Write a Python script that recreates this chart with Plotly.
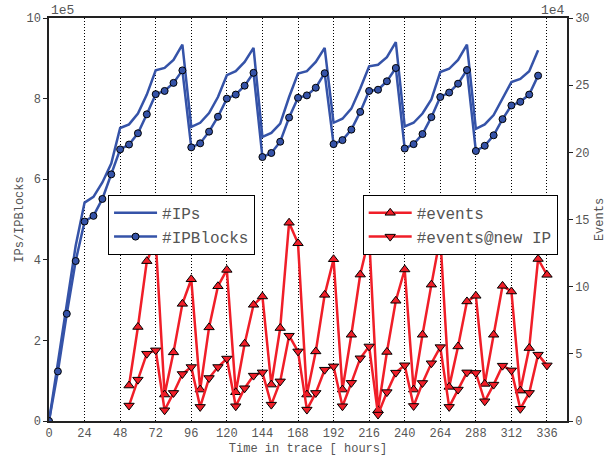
import plotly.graph_objects as go

# ---------------- data ----------------
hours_ip = [0, 6, 12, 18, 24, 30, 36, 42, 48, 54, 60, 66, 72, 78, 84, 90,
            96, 102, 108, 114, 120, 126, 132, 138, 144, 150, 156, 162, 168, 174, 180, 186,
            192, 198, 204, 210, 216, 222, 228, 234, 240, 246, 252, 258, 264, 270, 276, 282,
            288, 294, 300, 306, 312, 318, 324, 330]
ips = [0, 1.45, 3.0, 4.35, 5.42, 5.56, 5.92, 6.39, 7.27, 7.36, 7.63, 8.1, 8.70, 8.76, 8.96, 9.34,
       7.30, 7.40, 7.64, 8.04, 8.58, 8.68, 8.91, 9.26, 7.05, 7.15, 7.38, 8.04, 8.62, 8.68, 8.91, 9.26,
       7.40, 7.50, 7.75, 8.25, 8.80, 8.84, 9.03, 9.40, 7.31, 7.40, 7.63, 7.98, 8.66, 8.74, 8.96, 9.34,
       7.25, 7.36, 7.59, 8.0, 8.41, 8.49, 8.68, 9.2]
ipblocks = [0, 1.23, 2.66, 3.97, 4.95, 5.09, 5.51, 6.12, 6.74, 6.86, 7.14, 7.61, 8.11, 8.19, 8.39, 8.70,
            6.79, 6.89, 7.18, 7.55, 8.0, 8.10, 8.32, 8.64, 6.55, 6.65, 6.93, 7.53, 8.02, 8.08, 8.27, 8.63,
            6.87, 6.97, 7.23, 7.67, 8.19, 8.22, 8.43, 8.76, 6.76, 6.87, 7.12, 7.54, 8.04, 8.15, 8.37, 8.71,
            6.70, 6.83, 7.09, 7.49, 7.83, 7.92, 8.10, 8.57]

hours_ev = [54, 60, 66, 72, 78, 84, 90, 96, 102, 108, 114, 120, 126, 132, 138, 144,
            150, 156, 162, 168, 174, 180, 186, 192, 198, 204, 210, 216, 222, 228, 234, 240,
            246, 252, 258, 264, 270, 276, 282, 288, 294, 300, 306, 312, 318, 324, 330, 336]
events = [2.64, 7.0, 11.9, 13.4, 1.97, 5.11, 8.72, 10.55, 2.34, 6.97, 10.03, 11.25, 2.14, 5.75, 8.65, 9.27,
          2.71, 6.92, 14.76, 13.23, 1.97, 5.18, 9.39, 12.04, 2.34, 6.42, 10.9, 13.7, 0.8, 5.14, 8.95, 11.28,
          2.34, 6.42, 10.15, 13.7, 2.54, 5.55, 8.9, 9.32, 2.76, 6.42, 10.06, 9.64, 2.26, 5.43, 12.06, 10.88]
events_new = [1.15, 3.08, 5.01, 5.26, 0.80, 2.09, 3.5, 4.02, 1.05, 3.2, 4.02, 4.65, 1.10, 2.44, 3.38, 3.62,
              1.22, 2.95, 6.35, 5.18, 0.85, 2.09, 3.82, 4.07, 1.10, 2.84, 4.67, 5.55, 0.48, 2.15, 3.6, 4.15,
              1.12, 2.83, 4.3, 5.5, 1.05, 2.34, 3.62, 3.58, 1.47, 2.71, 4.12, 3.77, 0.91, 2.09, 4.94, 4.14]

x_ticks = [0, 24, 48, 72, 96, 120, 144, 168, 192, 216, 240, 264, 288, 312, 336]
left_ticks = [0, 2, 4, 6, 8, 10]
right_ticks = [0, 5, 10, 15, 20, 25, 30]

# ---------------- style ----------------
FONT = "Liberation Mono"
TXT = "#555555"
BLUE = "#3553a8"
RED = "#f01e28"

fig = go.Figure()
fig.add_trace(go.Scatter(x=hours_ip, y=ips, mode="lines", name="#IPs",
                         line=dict(color=BLUE, width=2.5), legend="legend"))
fig.add_trace(go.Scatter(x=hours_ip, y=ipblocks, mode="lines+markers", name="#IPBlocks",
                         line=dict(color=BLUE, width=2.5),
                         marker=dict(symbol="circle", size=7, color=BLUE,
                                     line=dict(color="black", width=1)),
                         legend="legend"))
fig.add_trace(go.Scatter(x=hours_ev, y=events, mode="lines+markers", name="#events",
                         line=dict(color=RED, width=2.5),
                         marker=dict(symbol="triangle-up", size=9, color=RED,
                                     line=dict(color="black", width=1)),
                         yaxis="y2", legend="legend2"))
fig.add_trace(go.Scatter(x=hours_ev, y=events_new, mode="lines+markers", name="#events@new IP",
                         line=dict(color=RED, width=2.5),
                         marker=dict(symbol="triangle-down", size=9, color=RED,
                                     line=dict(color="black", width=1)),
                         yaxis="y2", legend="legend2"))

fig.update_layout(
    width=616, height=456,
    margin=dict(l=49, r=49, t=18, b=35, autoexpand=False),
    plot_bgcolor="white", paper_bgcolor="white",
    font=dict(family=FONT, size=12, color=TXT),
    xaxis=dict(range=[0, 349.5], tickvals=x_ticks, ticktext=[str(v) for v in x_ticks],
               showgrid=True, gridcolor="black", griddash="1px,2px", gridwidth=1,
               showline=True, linecolor="#222222", linewidth=1.5, mirror=True,
               ticks="", zeroline=False, automargin=False,
               tickfont=dict(family=FONT, size=12, color=TXT),
               title=dict(text="Time in trace [ hours]", standoff=3,
                          font=dict(family=FONT, size=12, color=TXT))),
    yaxis=dict(range=[0, 10], tickvals=left_ticks, ticktext=[str(v) for v in left_ticks],
               showgrid=False, zeroline=False, automargin=False,
               showline=True, linecolor="#222222", linewidth=1.5,
               ticks="outside", ticklen=4, tickcolor="#222222",
               tickfont=dict(family=FONT, size=12, color=TXT),
               title=dict(text="IPs/IPBlocks", standoff=0,
                          font=dict(family=FONT, size=12, color=TXT))),
    yaxis2=dict(range=[0, 30], tickvals=right_ticks, ticktext=[str(v) for v in right_ticks],
                overlaying="y", side="right", showgrid=False, zeroline=False, automargin=False,
                showline=True, linecolor="#222222", linewidth=1.5,
                ticks="outside", ticklen=4, tickcolor="#222222",
                tickfont=dict(family=FONT, size=12, color=TXT),
                title=dict(text="Events", standoff=6,
                           font=dict(family=FONT, size=12, color=TXT))),
    legend=dict(x=0.114, y=0.561, xanchor="left", yanchor="top",
                bgcolor="white", bordercolor="black", borderwidth=1,
                font=dict(family=FONT, size=16, color=TXT),
                itemwidth=43, tracegroupgap=0),
    legend2=dict(x=0.6056, y=0.561, xanchor="left", yanchor="top",
                 bgcolor="white", bordercolor="black", borderwidth=1,
                 font=dict(family=FONT, size=16, color=TXT),
                 itemwidth=43, tracegroupgap=0),
    showlegend=True,
)

fig.add_annotation(text="1e5", xref="paper", yref="paper", x=0, y=1.0,
                   xanchor="left", yanchor="bottom", showarrow=False,
                   font=dict(family=FONT, size=13, color=TXT), yshift=-2)
fig.add_annotation(text="1e4", xref="paper", yref="paper", x=1, y=1.0,
                   xanchor="right", yanchor="bottom", showarrow=False,
                   font=dict(family=FONT, size=13, color=TXT), yshift=-2)

fig.write_html("out.html", config={"displayModeBar": False},
               post_script="document.body.style.margin='0';")
